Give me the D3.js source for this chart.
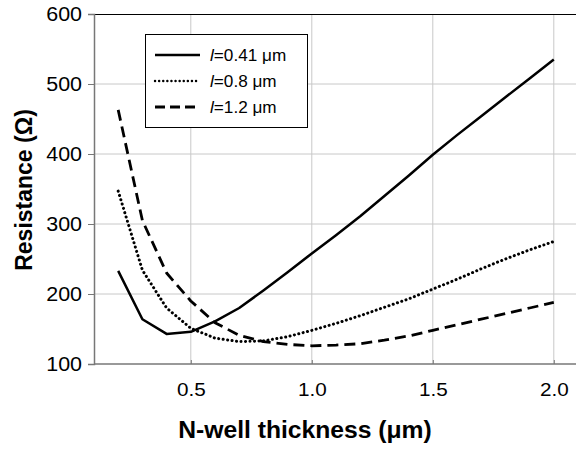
<!DOCTYPE html>
<html><head><meta charset="utf-8">
<script src="https://cdn.jsdelivr.net/npm/d3@7"></script>
<style>body{margin:0;background:#fff}svg{display:block;font-family:Arial,"Liberation Sans",sans-serif}</style>
</head><body><svg id="c" width="576" height="450"></svg>
<script>
const thickness = [0.2,0.3,0.4,0.5,0.6,0.7,0.8,0.9,1.0,1.1,1.2,1.3,1.4,1.5,1.6,1.7,1.8,1.9,2.0];
const r041 = [233,164,143,146,161,180,205,231,258,284,311,340,369,399,427,454,481,508,535];
const r08  = [347,234,180,151,137,132,133,139,148,158,169,181,193,207,221,236,250,263,275];
const r12  = [463,305,230,190,159,141,132,128,126,127,129,134,140,148,156,164,172,180,188];
const seriesNames = ["=0.41 \u03bcm","=0.8 \u03bcm","=1.2 \u03bcm"];
const xTicks = [0.5,1.0,1.5,2.0];
const yTicks = [100,200,300,400,500,600];

const svg = d3.select("#c");
const L=94, R=578, T=14, B=364;
const x = d3.scaleLinear().domain([0.1,2.1]).range([L,R]);
const y = d3.scaleLinear().domain([100,600]).range([B,T]);
const FONT = "Arial, 'Liberation Sans', sans-serif";

// grid
svg.append("g").selectAll("line").data(yTicks.filter(d=>d>100&&d<600)).join("line")
  .attr("x1",L).attr("x2",576).attr("y1",d=>y(d)).attr("y2",d=>y(d)).attr("stroke","#c8c8c8").attr("stroke-width",1);
svg.append("g").selectAll("line").data(xTicks).join("line")
  .attr("x1",d=>x(d)).attr("x2",d=>x(d)).attr("y1",T).attr("y2",B).attr("stroke","#c8c8c8").attr("stroke-width",1);
// top border
svg.append("line").attr("x1",L).attr("x2",576).attr("y1",T+0.5).attr("y2",T+0.5).attr("stroke","#000").attr("stroke-width",1);

// axes
const yAxis = svg.append("g").attr("transform",`translate(${L},0)`)
  .call(d3.axisLeft(y).tickValues(yTicks).tickSize(6).tickPadding(6).tickFormat(d3.format("d")));
yAxis.select(".domain").attr("stroke","#777").attr("stroke-width",1.5);
yAxis.selectAll(".tick line").attr("stroke","#777");
yAxis.selectAll("text").attr("font-size",19.5).attr("fill","#000").attr("font-family",FONT)
  .attr("x",-12/1.1).attr("transform","scale(1.1,1)");

const xAxis = svg.append("g").attr("transform",`translate(0,${B})`)
  .call(d3.axisBottom(x).tickValues(xTicks).tickSize(-4).tickPadding(19).tickFormat(d3.format(".1f")));
xAxis.select(".domain").attr("stroke","#777").attr("stroke-width",1.5).attr("d",`M${L},0H576`);
xAxis.selectAll(".tick line").attr("stroke","#777");
xAxis.selectAll("text").attr("font-size",18).attr("fill","#000").attr("font-family",FONT)
  .attr("transform","scale(1.15,1)");

// lines
const line = d3.line().x((d,i)=>x(thickness[i])).y(d=>y(d));
const styles = [
  {data:r041, dash:null, w:2.5, cap:"butt"},
  {data:r08, dash:"0.1,4.4", w:3, cap:"round"},
  {data:r12, dash:"11,6", w:2.8, cap:"butt"}
];
styles.forEach(s=>{
  svg.append("path").attr("d",line(s.data)).attr("fill","none").attr("stroke","#000")
    .attr("stroke-width",s.w).attr("stroke-dasharray",s.dash).attr("stroke-linecap",s.cap).attr("stroke-linejoin","round");
});

// legend
const lg = svg.append("g");
lg.append("rect").attr("x",145.5).attr("y",34.5).attr("width",162).attr("height",93).attr("fill","#fff").attr("stroke","#000").attr("stroke-width",1);
const legDash = [null,"0.1,4","10,5"];
seriesNames.forEach((n,i)=>{
  const yy = 55 + i*26;
  lg.append("line").attr("x1",155).attr("x2",200).attr("y1",yy).attr("y2",yy).attr("stroke","#000")
    .attr("stroke-width",i==0?2.5:(i==1?2.4:2.8)).attr("stroke-dasharray",legDash[i]).attr("stroke-linecap",i==1?"round":"butt");
  const t = lg.append("text").attr("x",210/1.04).attr("y",yy+6).attr("font-size",16.5).attr("fill","#000")
    .attr("transform","scale(1.04,1)");
  t.append("tspan").attr("font-style","italic").text("l");
  t.append("tspan").text(n);
});

// titles
svg.append("text").attr("transform","translate(305,438) scale(1.05,1)").attr("text-anchor","middle").attr("font-size",23.5).attr("font-weight","bold").text("N-well thickness (\u03bcm)");
svg.append("text").attr("transform","translate(32,190) rotate(-90)").attr("text-anchor","middle").attr("font-size",23).attr("font-weight","bold").text("Resistance (\u03a9)");
</script></body></html>
